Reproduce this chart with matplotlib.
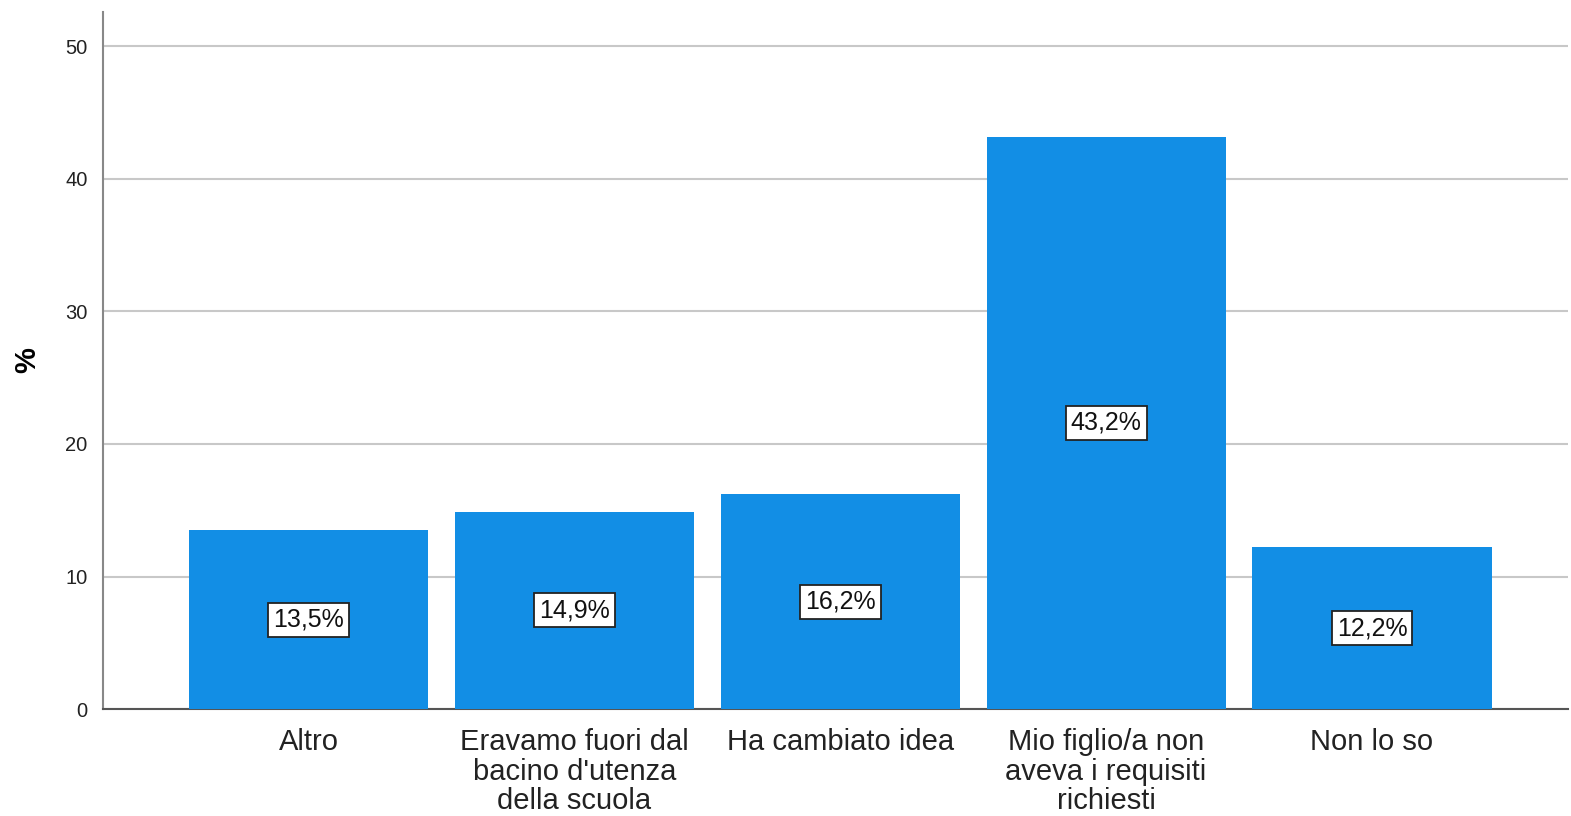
import matplotlib.pyplot as plt

categories = ["Altro", "Eravamo fuori dal\nbacino d'utenza\ndella scuola", "Ha cambiato idea",
              "Mio figlio/a non\naveva i requisiti\nrichiesti", "Non lo so"]
values = [13.5, 14.9, 16.2, 43.2, 12.2]
labels = ["13,5%", "14,9%", "16,2%", "43,2%", "12,2%"]
yticks = [0, 10, 20, 30, 40, 50]

plt.rcParams['font.family'] = ['Liberation Sans', 'DejaVu Sans']

fig = plt.figure(figsize=(15.71, 8.16), dpi=100)
ax = fig.add_axes([0.0655, 0.1311, 0.9325, 0.8542])

x = list(range(len(categories)))
ax.bar(x, values, width=0.9, color="#128ee5", zorder=3)

for xi, v, lab in zip(x, values, labels):
    ax.text(xi, v / 2, lab, ha="center", va="center", fontsize=18, color="#111111", zorder=4,
            bbox=dict(boxstyle="square,pad=0.2", facecolor="white", edgecolor="#222222", linewidth=1.3))

ax.set_xlim(-0.774, 4.737)
ax.set_ylim(0, 52.6)
ax.set_yticks(yticks)
ax.set_yticklabels([str(t) for t in yticks], fontsize=14.5, color="#222222")
ax.set_xticks(x)
ax.set_xticklabels(categories, fontsize=21, color="#222222", linespacing=1.05)
ax.tick_params(axis="both", length=0)
ax.tick_params(axis="x", pad=14)
ax.tick_params(axis="y", pad=11)

ax.yaxis.grid(True, color="#c8c8c8", linewidth=1.5, zorder=0)
ax.set_axisbelow(True)

for s in ["top", "right"]:
    ax.spines[s].set_visible(False)
ax.spines["left"].set_color("#888888")
ax.spines["left"].set_linewidth(1.5)
ax.spines["bottom"].set_color("#555555")
ax.spines["bottom"].set_linewidth(1.5)

ax.set_ylabel("%", fontsize=21, fontweight="bold")
ax.yaxis.set_label_coords(-0.042, 0.5)

fig.savefig("out.png", dpi=100)
